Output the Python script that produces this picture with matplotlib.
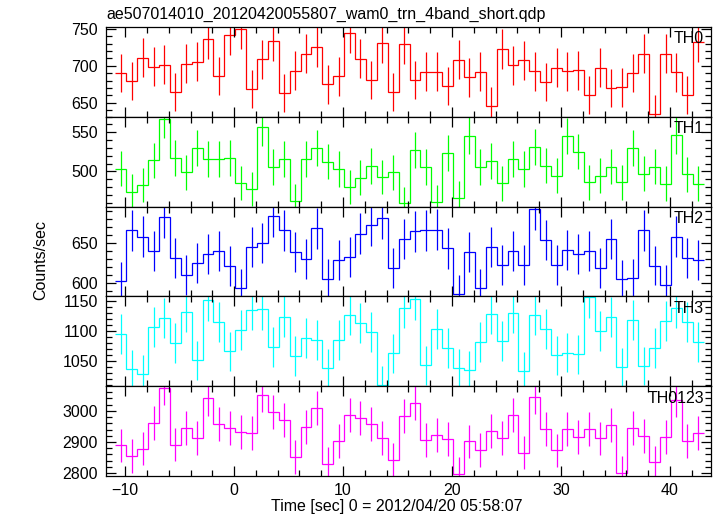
import numpy as np
import matplotlib.pyplot as plt
from matplotlib.ticker import MultipleLocator

plt.rcParams['font.family'] = ['Liberation Sans', 'DejaVu Sans']
plt.rcParams['font.size'] = 11.5

title = "ae507014010_20120420055807_wam0_trn_4band_short.qdp"
names = ["TH0", "TH1", "TH2", "TH3", "TH0123"]
colors = ["#ff0000", "#00ff00", "#0000ff", "#00ffff", "#ff00ff"]

# bin centres (1 s bins)
time = np.arange(54) - 10.4

th0 = [690.1, 679.3, 711.3, 699.1, 701.8, 664.9, 703.2, 705.9, 736.0, 686.5,
       741.4, 750.5, 668.9, 709.0, 734.2, 663.1, 693.2, 716.7, 725.2, 674.8,
       685.6, 745.0, 709.9, 680.6, 730.6, 664.4, 729.7, 680.6, 692.3, 691.9,
       673.0, 708.6, 684.2, 692.3, 645.9, 723.0, 700.5, 707.7, 692.8, 677.9,
       697.7, 692.8, 693.7, 659.9, 697.7, 669.8, 670.7, 690.5, 716.7, 634.7,
       716.7, 691.4, 660.8, 732.9]
th1 = [503.4, 474.2, 482.6, 514.0, 566.5, 516.9, 498.7, 529.7, 516.1, 515.7,
       516.9, 485.2, 477.5, 556.4, 505.5, 515.7, 461.9, 515.7, 530.1, 512.3,
       503.0, 480.1, 491.9, 506.8, 492.8, 498.7, 458.9, 527.1, 505.5, 460.6,
       523.7, 466.1, 545.8, 505.5, 513.1, 484.7, 516.1, 503.0, 530.9, 507.2,
       494.5, 545.3, 525.4, 486.0, 494.5, 505.9, 486.0, 529.7, 497.0, 505.9,
       484.3, 546.2, 496.2, 484.3]
th2 = [601.7, 666.3, 657.9, 640.4, 682.5, 631.3, 610.0, 625.4, 636.3, 639.6,
       621.3, 593.3, 645.0, 650.0, 684.2, 666.3, 638.8, 629.6, 668.8, 605.0,
       629.2, 632.9, 661.7, 672.5, 681.7, 618.8, 655.0, 664.6, 666.3, 666.7,
       643.3, 585.4, 638.8, 593.3, 645.4, 622.5, 640.0, 622.5, 692.9, 653.8,
       622.5, 641.3, 636.7, 640.0, 618.8, 655.0, 604.2, 605.8, 666.3, 621.7,
       597.5, 657.9, 631.3, 629.2]
th3 = [1095.0, 1035.8, 1027.4, 1106.1, 1120.7, 1079.3, 1131.8, 1050.9, 1150.8, 1114.5,
       1065.9, 1101.1, 1134.1, 1135.2, 1073.2, 1123.5, 1058.1, 1087.7, 1084.4, 1037.5,
       1084.9, 1126.2, 1112.8, 1097.8, 1010.1, 1062.6, 1138.0, 1151.9, 1043.0, 1102.8,
       1071.0, 1037.5, 1034.7, 1081.6, 1127.9, 1083.3, 1129.0, 1033.0, 1126.8, 1102.8,
       1059.2, 1063.7, 1060.9, 1155.8, 1099.4, 1122.9, 1039.7, 1117.9, 1041.4, 1071.5,
       1116.2, 1138.0, 1114.5, 1081.0]
th0123 = [2889.4, 2855.3, 2878.7, 2960.7, 3072.5, 2891.5, 2944.7, 2912.8, 3039.5, 2958.6,
          2944.7, 2930.9, 2928.8, 3051.2, 2995.8, 2969.2, 2852.1, 2949.0, 3009.7, 2829.7,
          2903.2, 2985.2, 2976.7, 2957.5, 2913.8, 2843.6, 2983.1, 3024.6, 2906.4, 2922.4,
          2910.6, 2797.8, 2902.1, 2874.4, 2934.1, 2912.8, 2987.3, 2865.9, 3044.8, 2940.5,
          2873.4, 2941.5, 2916.0, 2940.5, 2911.7, 2954.3, 2801.0, 2944.7, 2919.2, 2835.0,
          2916.0, 3035.2, 2903.2, 2927.7]

series = [th0, th1, th2, th3, th0123]
ylims = [(631, 753), (455, 570), (583, 696), (1008, 1157), (2791, 3079)]
ymajor = [50, 50, 50, 50, 100]
yminor = [10, 10, 10, 10, 20]

fig, axes = plt.subplots(5, 1, sharex=True, figsize=(7.17, 5.16), dpi=100)
fig.subplots_adjust(left=0.148, right=0.992, top=0.948, bottom=0.0775, hspace=0)

edges = np.append(time - 0.5, time[-1] + 0.5)
for i, ax in enumerate(axes):
    vals = np.array(series[i])
    err = np.sqrt(vals)  # poisson errors, 1 s bins
    ax.stairs(vals, edges, baseline=None, color=colors[i], lw=0.9)
    ax.errorbar(time, vals, yerr=err, fmt='none', ecolor=colors[i], elinewidth=0.9)
    ax.set_ylim(*ylims[i])
    ax.yaxis.set_major_locator(MultipleLocator(ymajor[i]))
    ax.yaxis.set_minor_locator(MultipleLocator(yminor[i]))
    ax.xaxis.set_major_locator(MultipleLocator(10))
    ax.xaxis.set_minor_locator(MultipleLocator(2))
    ax.tick_params(which='both', direction='in', top=True, right=True, width=0.9)
    ax.tick_params(which='major', length=7, pad=6)
    ax.tick_params(which='minor', length=4)
    ax.tick_params(axis='x', pad=5)
    for sp in ax.spines.values():
        sp.set_linewidth(0.9)
    ax.text(0.988, 0.95, names[i], transform=ax.transAxes, ha='right', va='top')

axes[-1].set_xlim(-11.75, 43.8)

fig.text(106 / 717, 1 - 19 / 516, title, ha='left', va='baseline')
fig.text(41 / 717, 1 - 260 / 516, "Counts/sec", rotation=90, ha='center', va='center')
fig.text(397 / 717, 1 - 507 / 516, "Time [sec] 0 = 2012/04/20 05:58:07", ha='center', va='center')

fig.savefig("out.png", dpi=100)
